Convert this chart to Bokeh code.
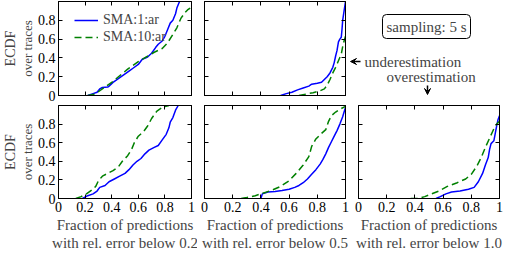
from bokeh.plotting import figure
from bokeh.layouts import column, row
from bokeh.models import (Range1d, FixedTicker, LinearAxis, Title, Label, Arrow,
                          VeeHead, Legend, LegendItem)
from bokeh.embed import file_html
from bokeh.resources import INLINE

FONT = "Liberation Serif"
BLUE = "#0000ff"
GREEN = "#008000"

series_names = ["SMA:1:ar", "SMA:10:ar"]
x_ticks = [0, 0.2, 0.4, 0.6, 0.8, 1.0]
x_tick_labels = ["0", "0.2", "0.4", "0.6", "0.8", "1"]
y_ticks = [0, 0.2, 0.4, 0.6, 0.8]
y_tick_labels = ["0", "0.2", "0.4", "0.6", "0.8"]
y_label_lines = ["ECDF", "over traces"]
x_label_line1 = "Fraction of predictions"
x_label_line2 = ["with rel. error below 0.2", "with rel. error below 0.5", "with rel. error below 1.0"]
sampling_text = "sampling: 5 s"
under_text = "underestimation"
over_text = "overestimation"

# top row, panel 1 (underestimation, 0.2)
u02_sma1_x = [0.22, 0.26, 0.29, 0.31, 0.33, 0.37, 0.38, 0.41, 0.45, 0.49, 0.53, 0.56, 0.60, 0.63, 0.67, 0.70, 0.73, 0.75, 0.78, 0.80, 0.82, 0.84, 0.86, 0.88, 0.89, 0.91]
u02_sma1_y = [0.0, 0.02, 0.035, 0.07, 0.085, 0.09, 0.10, 0.14, 0.18, 0.22, 0.26, 0.29, 0.33, 0.385, 0.41, 0.45, 0.51, 0.545, 0.58, 0.63, 0.70, 0.77, 0.80, 0.87, 0.93, 1.0]
u02_sma10_x = [0.22, 0.26, 0.30, 0.34, 0.40, 0.46, 0.52, 0.60, 0.66, 0.72, 0.78, 0.82, 0.86, 0.89, 0.92, 0.95, 0.97, 0.99]
u02_sma10_y = [0.0, 0.01, 0.04, 0.08, 0.14, 0.21, 0.28, 0.36, 0.41, 0.46, 0.50, 0.56, 0.65, 0.72, 0.82, 0.88, 0.91, 0.93]

# top row, panel 2 (underestimation, 0.5)
u05_sma1_x = [0.54, 0.58, 0.62, 0.66, 0.70, 0.74, 0.76, 0.80, 0.83, 0.85, 0.87, 0.89, 0.91, 0.92, 0.93, 0.94, 0.95, 0.96, 0.97, 0.975, 0.98, 0.99, 1.0]
u05_sma1_y = [0.0, 0.02, 0.035, 0.06, 0.08, 0.10, 0.12, 0.13, 0.14, 0.17, 0.20, 0.24, 0.30, 0.35, 0.42, 0.48, 0.57, 0.60, 0.62, 0.70, 0.80, 0.90, 1.0]
u05_sma10_x = [0.67, 0.72, 0.77, 0.82, 0.85, 0.87, 0.89, 0.91, 0.93, 0.95, 0.97, 0.98, 0.99, 1.0]
u05_sma10_y = [0.0, 0.015, 0.03, 0.05, 0.07, 0.11, 0.17, 0.24, 0.30, 0.37, 0.44, 0.52, 0.58, 0.63]

# bottom row, panel 1 (overestimation, 0.2)
o02_sma1_x = [0.18, 0.22, 0.26, 0.29, 0.31, 0.35, 0.38, 0.42, 0.46, 0.50, 0.53, 0.56, 0.59, 0.62, 0.65, 0.68, 0.72, 0.75, 0.78, 0.81, 0.83, 0.84, 0.86, 0.88, 0.90]
o02_sma1_y = [0.0, 0.03, 0.05, 0.08, 0.12, 0.14, 0.18, 0.21, 0.24, 0.27, 0.31, 0.36, 0.40, 0.43, 0.48, 0.52, 0.55, 0.57, 0.63, 0.69, 0.76, 0.82, 0.87, 0.95, 1.0]
o02_sma10_x = [0.13, 0.17, 0.21, 0.25, 0.28, 0.30, 0.33, 0.37, 0.41, 0.45, 0.48, 0.52, 0.55, 0.57, 0.60, 0.64, 0.67, 0.70, 0.74, 0.78, 0.83]
o02_sma10_y = [0.0, 0.02, 0.05, 0.09, 0.13, 0.19, 0.24, 0.27, 0.30, 0.34, 0.40, 0.46, 0.53, 0.60, 0.67, 0.72, 0.78, 0.86, 0.94, 0.98, 1.0]

# bottom row, panel 2 (overestimation, 0.5)
o05_sma1_x = [0.40, 0.41, 0.45, 0.50, 0.55, 0.60, 0.64, 0.67, 0.70, 0.73, 0.76, 0.79, 0.82, 0.84, 0.86, 0.88, 0.90, 0.92, 0.94, 0.96, 0.98, 0.99, 1.0]
o05_sma1_y = [0.0, 0.05, 0.07, 0.075, 0.085, 0.10, 0.12, 0.14, 0.17, 0.21, 0.26, 0.31, 0.37, 0.42, 0.48, 0.55, 0.61, 0.67, 0.73, 0.80, 0.88, 0.93, 0.98]
o05_sma10_x = [0.26, 0.30, 0.36, 0.42, 0.48, 0.54, 0.60, 0.65, 0.70, 0.74, 0.76, 0.79, 0.83, 0.86, 0.88, 0.90, 0.93, 0.96, 1.0]
o05_sma10_y = [0.0, 0.01, 0.03, 0.06, 0.09, 0.13, 0.19, 0.27, 0.36, 0.45, 0.56, 0.64, 0.70, 0.74, 0.83, 0.89, 0.93, 0.96, 0.99]

# bottom row, panel 3 (overestimation, 1.0)
o10_sma1_x = [0.55, 0.58, 0.62, 0.66, 0.72, 0.78, 0.82, 0.85, 0.88, 0.90, 0.92, 0.93, 0.94, 0.96, 0.97, 0.98, 0.99, 1.0]
o10_sma1_y = [0.0, 0.02, 0.05, 0.07, 0.08, 0.10, 0.12, 0.18, 0.27, 0.36, 0.44, 0.53, 0.59, 0.62, 0.70, 0.78, 0.85, 0.89]
o10_sma10_x = [0.37, 0.42, 0.47, 0.52, 0.57, 0.63, 0.70, 0.76, 0.80, 0.84, 0.87, 0.90, 0.93, 0.96, 0.98, 1.0]
o10_sma10_y = [0.0, 0.0, 0.02, 0.05, 0.08, 0.13, 0.17, 0.21, 0.26, 0.35, 0.44, 0.55, 0.65, 0.75, 0.80, 0.83]


def style_axis(ax, ticks, labels, show_labels):
    ax.ticker = FixedTicker(ticks=ticks)
    ax.major_tick_in = 4
    ax.major_tick_out = 0
    ax.minor_tick_in = 0
    ax.minor_tick_out = 0
    ax.axis_line_color = "black"
    ax.major_tick_line_color = "black"
    ax.major_label_text_font = FONT
    ax.major_label_overrides = dict(zip(ticks, labels))
    if show_labels:
        ax.major_label_text_color = "black"
        ax.major_label_text_font_size = "14px"
        ax.major_label_standoff = 3
    else:
        ax.major_label_text_color = None
        ax.major_label_text_font_size = "0px"
        ax.major_label_standoff = 0


def make_panel(width, height, bl, br, bt, bb, show_x, show_y, curves, xlabel2=None):
    p = figure(width=width, height=height, output_backend="svg", toolbar_location=None,
               title=None, x_range=Range1d(0, 1), y_range=Range1d(0, 1),
               min_border_left=bl, min_border_right=br, min_border_top=bt, min_border_bottom=bb)
    p.grid.grid_line_color = None
    p.outline_line_color = "black"
    p.background_fill_color = "white"
    style_axis(p.xaxis[0], x_ticks, x_tick_labels, show_x)
    style_axis(p.yaxis[0], y_ticks, y_tick_labels, show_y)
    top = LinearAxis()
    right = LinearAxis()
    style_axis(top, x_ticks, x_tick_labels, False)
    style_axis(right, y_ticks, y_tick_labels, False)
    p.add_layout(top, "above")
    p.add_layout(right, "right")
    if show_y:
        p.add_layout(Title(text=y_label_lines[1], align="center", text_font=FONT,
                           text_font_size="13px", text_font_style="normal", standoff=0), "left")
        p.add_layout(Title(text=y_label_lines[0], align="center", text_font=FONT,
                           text_font_size="14px", text_font_style="normal", standoff=0), "left")
    if xlabel2 is not None:
        p.add_layout(Title(text=x_label_line1, align="center", text_font=FONT,
                           text_font_size="15px", text_font_style="normal", standoff=0), "below")
        p.add_layout(Title(text=xlabel2, align="center", text_font=FONT,
                           text_font_size="15px", text_font_style="normal", standoff=0), "below")
    (x1, y1), (x2, y2) = curves
    r1 = p.line(x1, y1, line_color=BLUE, line_width=1.5)
    r2 = p.line(x2, y2, line_color=GREEN, line_width=1.5, line_dash="7 4")
    return p, r1, r2


TOP_H = 103   # 1 + 94 + 8
BOT_H = 153   # 2 + 93 + 58

pA_top, ra1, ra2 = make_panel(197, TOP_H, 50, 6, 1, 8, False, True,
                              [(u02_sma1_x, u02_sma1_y), (u02_sma10_x, u02_sma10_y)])
pB_top, _, _ = make_panel(150, TOP_H, 7, 2, 1, 8, False, False,
                          [(u05_sma1_x, u05_sma1_y), (u05_sma10_x, u05_sma10_y)])

legend = Legend(items=[LegendItem(label=series_names[0], renderers=[ra1]),
                       LegendItem(label=series_names[1], renderers=[ra2])],
                location=(16, 50), padding=0, spacing=1, glyph_width=24, glyph_height=16,
                label_height=16, label_standoff=5, label_text_font=FONT,
                label_text_font_size="14px", border_line_color=None,
                background_fill_alpha=0.0)
pA_top.add_layout(legend)

q = figure(width=157, height=TOP_H, output_backend="svg", toolbar_location=None, title=None,
           x_range=Range1d(0, 1), y_range=Range1d(0, 1),
           x_axis_location=None, y_axis_location=None, min_border=0)
q.outline_line_color = None
q.grid.grid_line_color = None
q.add_layout(Label(x=79, y=69, x_units="screen", y_units="screen", text=sampling_text,
                   text_align="center", text_baseline="middle", text_font=FONT,
                   text_font_size="15px", border_line_color="black", border_line_width=1,
                   border_radius=4, padding=4, background_fill_color="white"))
q.add_layout(Arrow(x_start=13, y_start=34, x_end=3, y_end=34, start_units="screen",
                   end_units="screen", line_width=1.5, line_color="black",
                   end=VeeHead(size=6, fill_color="black", line_color="black")))
q.add_layout(Label(x=17, y=34, x_units="screen", y_units="screen", text=under_text,
                   text_align="left", text_baseline="middle", text_font=FONT,
                   text_font_size="15px"))
q.add_layout(Label(x=39, y=19, x_units="screen", y_units="screen", text=over_text,
                   text_align="left", text_baseline="middle", text_font=FONT,
                   text_font_size="15px"))
q.add_layout(Arrow(x_start=80, y_start=10, x_end=80, y_end=1, start_units="screen",
                   end_units="screen", line_width=1.5, line_color="black",
                   end=VeeHead(size=6, fill_color="black", line_color="black")))

pA_bot, _, _ = make_panel(197, BOT_H, 50, 6, 2, 58, True, True,
                          [(o02_sma1_x, o02_sma1_y), (o02_sma10_x, o02_sma10_y)], x_label_line2[0])
pB_bot, _, _ = make_panel(154, BOT_H, 7, 6, 2, 58, True, False,
                          [(o05_sma1_x, o05_sma1_y), (o05_sma10_x, o05_sma10_y)], x_label_line2[1])
pC_bot, _, _ = make_panel(153, BOT_H, 7, 5, 2, 58, True, False,
                          [(o10_sma1_x, o10_sma1_y), (o10_sma10_x, o10_sma10_y)], x_label_line2[2])

layout = column(row(pA_top, pB_top, q), row(pA_bot, pB_bot, pC_bot))
open("out.html", "w").write(file_html(layout, INLINE))
